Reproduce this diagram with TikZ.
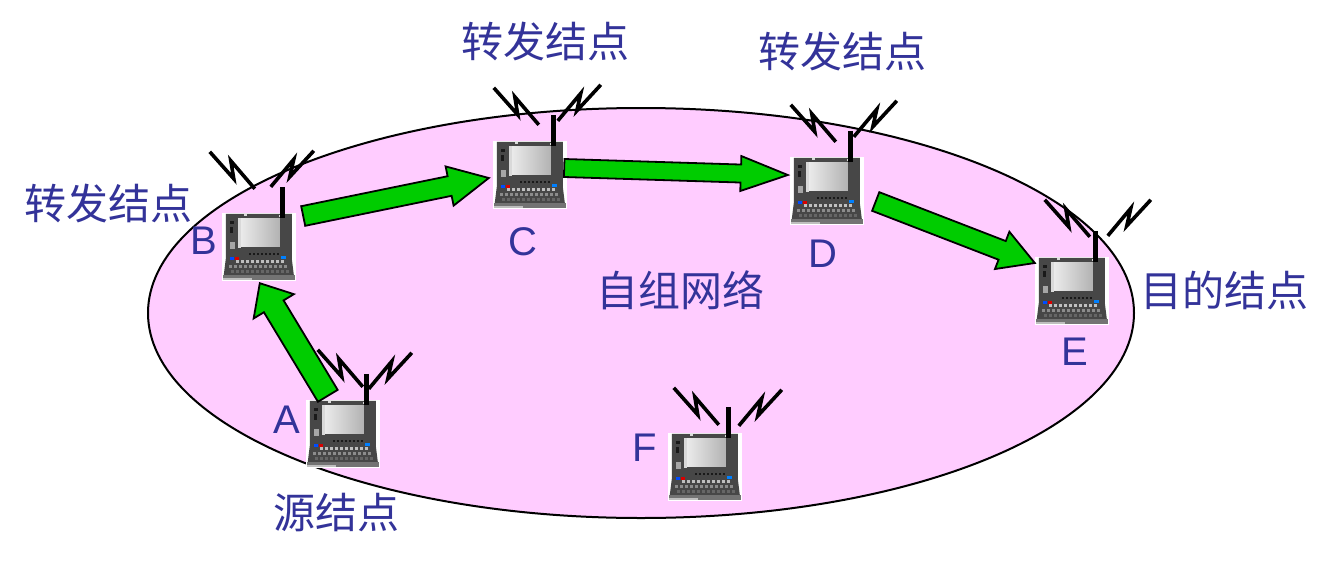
\documentclass[tikz,border=0pt]{standalone}
\usepackage{fontspec}
\setmainfont{Liberation Sans}
\newfontfamily\cjk{Noto Sans CJK SC}
\usetikzlibrary{calc}

\definecolor{netpink}{HTML}{FFCCFF}
\definecolor{labelblue}{HTML}{333399}
\definecolor{arrowgreen}{HTML}{00CC00}

\tikzset{
    lapbox/.style={rectangle, fill=white, inner sep=0pt, minimum width=74pt, minimum height=68pt},
    zigline/.style={line width=3.6pt, line join=miter},
    mastline/.style={line width=5pt},
    arrowbody/.style={draw=black, line width=1.8pt, fill=arrowgreen, line join=miter},
    cnlabel/.style={text=labelblue, font=\cjk\fontsize{42}{44}\selectfont, inner sep=0pt},
    letterlabel/.style={text=labelblue, font=\fontsize{40}{44}\selectfont, inner sep=0pt},
    pics/laptop/.style n args={4}{code={
            % lid and base
        \fill[black!72] (4,1) -- (70,1) -- (70,46) -- (72,62) -- (2,62) -- (4,46) -- cycle;
        \fill[black!55] (1,62) rectangle (73,67);
        \fill[black!25] (1,65) rectangle (30,67);
            % screen
        \fill[left color=white!92!black, right color=black!30] (19,6) rectangle (58,34);
        \fill[black!15] (16.5,5) rectangle (18.7,35);
        \fill[black!15] (22,1) rectangle (25,3);
        \fill[black!15] (57,2) rectangle (60,4);
            % side slots
        \fill[black!90] (8,8) rectangle (12,11);
        \fill[black!90] (8,14) rectangle (11,20);
        \fill[black!35] (8,29) rectangle (13,36);
            % dots under the screen
        \foreach \i in {0,...,7} {
            \fill[black!90] (27+\i*4,40) rectangle ++(2,2);
        }
            % keys
        \foreach \i in {0,...,9} {
            \fill[black!25] (14+\i*5,47) rectangle ++(3.5,3.5);
        }
        \foreach \i in {0,...,11} {
            \fill[black!45] (7+\i*5,52) rectangle ++(3.5,3);
            \fill[black!60] (9+\i*5,57) rectangle ++(3.5,3);
        }
        \fill[blue!70!cyan] (8,44) rectangle ++(4,3);
        \fill[red!85!black] (13,44) rectangle ++(4,3);
        \fill[blue!50!cyan] (59,43) rectangle ++(5,3);
            % antenna
        \draw[mastline] (61,-26) -- (61,5);
        \draw[zigline] (#1,#2) -- ++(24,27) -- ++(-3,-18) -- ++(24,28);
        \draw[zigline] (#3,#4) -- ++(-24,26) -- ++(4,-17.5) -- ++(-23,27.5);
    }},
}

    % from, to, half shaft, half head, head length
\newcommand{\blockarrow}[5]{
    \coordinate (tmpS) at #1;
    \coordinate (tmpT) at #2;
    \coordinate (tmpN) at ($(tmpT)!#5!(tmpS)$);
    \draw[arrowbody] ($(tmpS)!#3!90:(tmpT)$) -- ($(tmpN)!#3!90:(tmpT)$)
        -- ($(tmpN)!#4!90:(tmpT)$) -- (tmpT) -- ($(tmpN)!#4!-90:(tmpT)$)
        -- ($(tmpN)!#3!-90:(tmpT)$) -- ($(tmpS)!#3!-90:(tmpT)$) -- cycle;
}

\begin{document}
\begin{tikzpicture}[x=1pt,y=-1pt]
    \useasboundingbox (0,0) rectangle (1331,560);

        % the network
    \draw[line width=2pt, fill=netpink] (641,313) ellipse [x radius=493, y radius=205];

        % laptops
    \node[lapbox] (lapA) at (343,434) {};
    \node[lapbox] (lapB) at (259,247) {};
    \node[lapbox] (lapC) at (530,175) {};
    \node[lapbox] (lapD) at (827,191) {};
    \node[lapbox] (lapE) at (1072,291) {};
    \node[lapbox] (lapF) at (705,467) {};

    \pic at (lapA.north west) {laptop={12}{-50}{106}{-47}};
    \pic at (lapB.north west) {laptop={-12}{-61}{92}{-62}};
    \pic at (lapC.north west) {laptop={1}{-53}{108}{-56}};
    \pic at (lapD.north west) {laptop={1}{-52}{107}{-56}};
    \pic at (lapE.north west) {laptop={10}{-57}{116}{-57}};
    \pic at (lapF.north west) {laptop={6}{-45}{114}{-43}};

        % the route
    \blockarrow{([shift={(22,-4)}]lapA.north west)}{([shift={(38,2)}]lapB.south west)}{11.5pt}{23.5pt}{27pt}
    \blockarrow{([shift={(7,-31)}]lapB.east)}{([shift={(-4,3)}]lapC.west)}{10pt}{20pt}{40pt}
    \blockarrow{([shift={(-3,-7)}]lapC.east)}{([shift={(-2,-16)}]lapD.west)}{9pt}{17.5pt}{47pt}
    \blockarrow{([shift={(11.5,10.5)}]lapD.east)}{([shift={(0,-28)}]lapE.west)}{10pt}{20pt}{35pt}

        % letters
    \node[letterlabel] (nameA) at (287,420) {A};
    \node[letterlabel] (nameB) at (204,241) {B};
    \node[letterlabel] (nameC) at (523,242) {C};
    \node[letterlabel] (nameD) at (823,254) {D};
    \node[letterlabel] (nameE) at (1075,352) {E};
    \node[letterlabel] (nameF) at (645,448) {F};

        % roles
    \node[cnlabel] (relayB) at (108,204) {转发结点};
    \node[cnlabel] (relayC) at (545,42) {转发结点};
    \node[cnlabel] (relayD) at (842,52) {转发结点};
    \node[cnlabel] (source) at (336,513) {源结点};
    \node[cnlabel] (target) at (1224,290) {目的结点};
    \node[cnlabel] (adhoc) at (680,290) {自组网络};
\end{tikzpicture}
\end{document}
